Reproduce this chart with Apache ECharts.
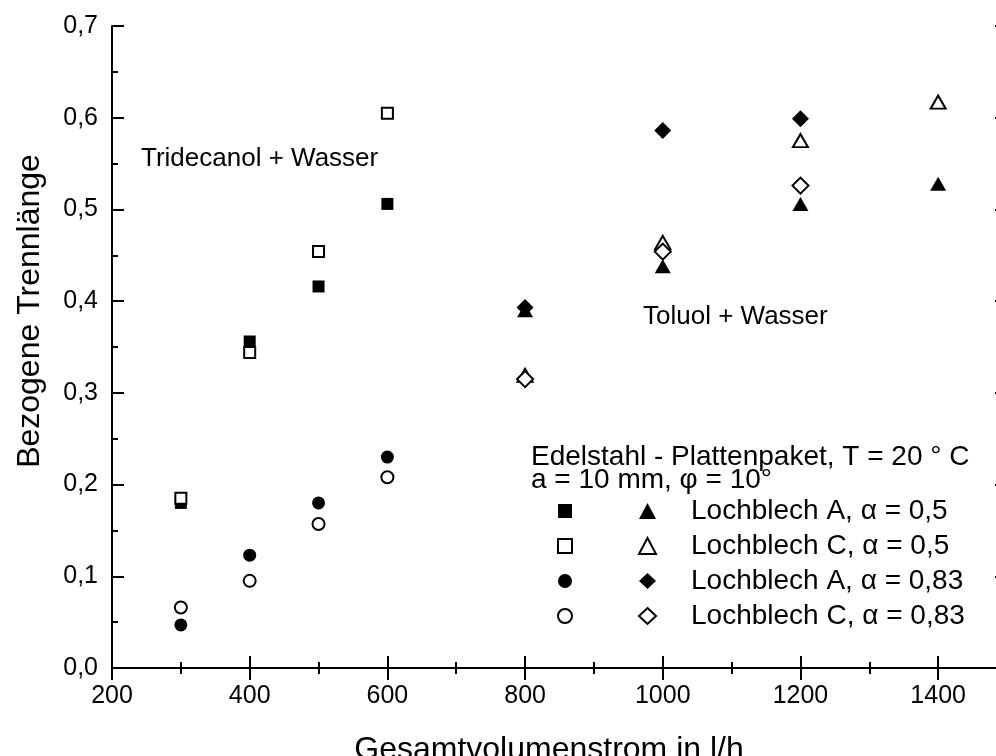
<!DOCTYPE html>
<html>
<head>
<meta charset="utf-8">
<script src="https://cdn.jsdelivr.net/npm/echarts@6/dist/echarts.min.js"></script>
<style>html,body{margin:0;padding:0;background:#fff;}#c{width:996px;height:756px;}</style>
</head>
<body>
<div id="c"></div>
<script>
// ---- data ----
const xTrid = [300, 400, 500, 600];
const tridA05 = [0.180, 0.356, 0.416, 0.506];
const tridC05 = [0.185, 0.344, 0.454, 0.605];
const tridA083 = [0.047, 0.123, 0.180, 0.230];
const tridC083 = [0.066, 0.095, 0.157, 0.208];

const xTol = [800, 1000, 1200, 1400];
const tolA05 = [0.390, 0.438, 0.506, 0.528];
const tolC05 = [0.319, 0.464, 0.575, 0.617];
const tolA083 = [0.393, 0.586, 0.599, null];
const tolC083 = [0.315, 0.454, 0.526, null];

const xTicks = [200, 400, 600, 800, 1000, 1200, 1400];
const yTicks = ['0,0', '0,1', '0,2', '0,3', '0,4', '0,5', '0,6', '0,7'];

const tolNames = ['Lochblech A, α = 0,5', 'Lochblech C, α = 0,5', 'Lochblech A, α = 0,83', 'Lochblech C, α = 0,83'];
const tridNames = ['Tridecanol A 0,5', 'Tridecanol C 0,5', 'Tridecanol A 0,83', 'Tridecanol C 0,83'];

const FONT = '"Liberation Sans", Arial, Helvetica, sans-serif';
const pairs = (xs, ys) => xs.map((x, i) => [x, ys[i]]).filter(p => p[1] !== null);

const filled = {color: '#000', borderColor: '#000', borderWidth: 0, opacity: 1};
const hollow = {color: '#fff', borderColor: '#000', borderWidth: 2, opacity: 1};

function sc(name, xs, ys, symbol, size, style) {
  return {name, type: 'scatter', data: pairs(xs, ys), symbol, symbolSize: size,
    itemStyle: style, emphasis: {disabled: true}, z: style === hollow ? 3 : 2};
}

const series = [
  sc(tridNames[0], xTrid, tridA05, 'rect', 12, filled),
  sc(tridNames[1], xTrid, tridC05, 'rect', 11, hollow),
  sc(tridNames[2], xTrid, tridA083, 'circle', 13, filled),
  sc(tridNames[3], xTrid, tridC083, 'circle', 12, hollow),
  sc(tolNames[0], xTol, tolA05, 'triangle', [16, 14], filled),
  sc(tolNames[1], xTol, tolC05, 'triangle', [15, 13], hollow),
  sc(tolNames[2], xTol, tolA083, 'diamond', [17, 17], filled),
  sc(tolNames[3], xTol, tolC083, 'diamond', [16, 16], hollow)
];

const axisLineStyle = {color: '#000', width: 2};
const chart = echarts.init(document.getElementById('c'), null, {renderer: 'canvas'});
chart.setOption({
  animation: false,
  backgroundColor: '#fff',
  grid: {left: 112, top: 26, width: 895, height: 642, containLabel: false, outerBoundsMode: 'none'},
  xAxis: [{
    type: 'value', min: 200, max: 1500, interval: 200,
    axisLine: {show: true, lineStyle: axisLineStyle},
    axisTick: {show: true, inside: true, length: 12, lineStyle: axisLineStyle},
    minorTick: {show: true, splitNumber: 2, length: 6, lineStyle: axisLineStyle},
    splitLine: {show: false},
    axisLabel: {show: true, showMaxLabel: false, margin: 16, fontSize: 25, color: '#000', fontFamily: FONT,
      formatter: v => xTicks.includes(v) ? String(v) : ''},
    name: 'Gesamtvolumenstrom in l/h', nameLocation: 'middle', nameGap: 66,
    nameTextStyle: {fontSize: 32, color: '#000', fontFamily: FONT, padding: [0, 21, 0, 0]}
  }, {
    type: 'value', position: 'top', min: 200, max: 1500, interval: 200,
    axisLine: {show: true, lineStyle: axisLineStyle},
    axisTick: {show: true, inside: true, length: 12, lineStyle: axisLineStyle},
    minorTick: {show: true, splitNumber: 2, length: 6, lineStyle: axisLineStyle},
    splitLine: {show: false}, axisLabel: {show: false}
  }],
  yAxis: [{
    type: 'value', min: 0, max: 0.7, interval: 0.1,
    axisLine: {show: true, lineStyle: axisLineStyle},
    axisTick: {show: true, inside: true, length: 12, lineStyle: axisLineStyle},
    minorTick: {show: true, splitNumber: 2, length: 6, lineStyle: axisLineStyle},
    splitLine: {show: false},
    axisLabel: {show: true, margin: 14, fontSize: 25, color: '#000', fontFamily: FONT,
      formatter: v => yTicks[Math.round(v * 10)]},
    name: 'Bezogene Trennlänge', nameLocation: 'middle', nameGap: 66, nameRotate: 90,
    nameTextStyle: {fontSize: 32, color: '#000', fontFamily: FONT, padding: [0, 0, 0, 72]}
  }, {
    type: 'value', position: 'right', min: 0, max: 0.7, interval: 0.1,
    axisLine: {show: true, lineStyle: axisLineStyle},
    axisTick: {show: true, inside: true, length: 12, lineStyle: axisLineStyle},
    minorTick: {show: true, splitNumber: 2, length: 6, lineStyle: axisLineStyle},
    splitLine: {show: false}, axisLabel: {show: false}
  }],
  legend: [{
    data: tridNames, orient: 'vertical', left: 557, top: 497, padding: 0,
    itemWidth: 14, itemHeight: 14, itemGap: 7, selectedMode: false,
    formatter: () => ' ',
    textStyle: {fontSize: 28, lineHeight: 28, fontFamily: FONT, color: '#000'}
  }, {
    data: tolNames, orient: 'vertical', left: 638, top: 497, padding: 0,
    itemWidth: 17, itemHeight: 16, itemGap: 7, selectedMode: false,
    textStyle: {fontSize: 28, lineHeight: 28, fontFamily: FONT, color: '#000', padding: [0, 0, 0, 30]}
  }],
  graphic: [
    {type: 'text', x: 141, y: 159, style: {text: 'Tridecanol + Wasser', font: '26px ' + FONT, fill: '#000', verticalAlign: 'middle'}},
    {type: 'text', x: 643, y: 317, style: {text: 'Toluol + Wasser', font: '26px ' + FONT, fill: '#000', verticalAlign: 'middle'}},
    {type: 'text', x: 531, y: 457, style: {text: 'Edelstahl - Plattenpaket, T = 20 ° C', font: '28px ' + FONT, fill: '#000', verticalAlign: 'middle'}},
    {type: 'text', x: 531, y: 480, style: {text: 'a = 10 mm, φ = 10°', font: '28px ' + FONT, fill: '#000', verticalAlign: 'middle'}}
  ],
  series
});
</script>
</body>
</html>
